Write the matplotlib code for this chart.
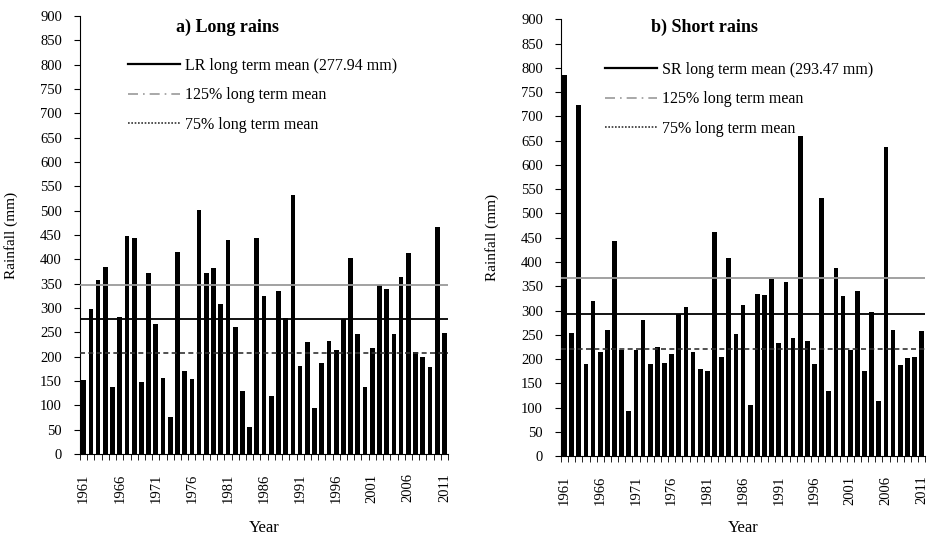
import numpy as np
import matplotlib.pyplot as plt
from matplotlib.lines import Line2D
from matplotlib.ticker import MultipleLocator

plt.rcParams['font.family'] = ['Liberation Serif', 'DejaVu Serif']

years = np.arange(1961, 2012)

long_rains = [153, 299, 357, 385, 137, 281, 449, 443, 148, 371,
              268, 157, 75, 416, 171, 155, 502, 371, 383, 309,
              440, 261, 129, 55, 443, 325, 120, 336, 280, 533,
              181, 230, 95, 188, 232, 213, 278, 402, 246, 137,
              217, 347, 339, 246, 363, 413, 209, 199, 179, 466,
              248]
short_rains = [785, 253, 724, 190, 320, 214, 260, 444, 219, 94,
               219, 281, 190, 224, 192, 211, 292, 307, 215, 180,
               176, 462, 205, 408, 251, 311, 105, 334, 332, 364,
               233, 359, 244, 660, 237, 190, 531, 134, 387, 329,
               219, 341, 176, 297, 113, 636, 260, 187, 202, 204,
               258]
lr_mean = 277.94
sr_mean = 293.47

fig = plt.figure(figsize=(9.34, 5.36), dpi=100)
ax1 = fig.add_axes([0.0857, 0.153, 0.394, 0.817])
ax2 = fig.add_axes([0.6006, 0.149, 0.390, 0.815])


def draw_panel(ax, data, mean, title, tag, title_xy, leg_xy, ylab_x, xlab_y):
    ax.bar(years, data, width=0.65, color='black', zorder=2)
    ax.axhline(mean, color='black', lw=1.3, zorder=3)
    ax.axhline(mean * 1.25, color='#9a9a9a', lw=1.3, zorder=3)
    ax.axhline(mean * 0.75, color='#333333', lw=1.2, ls=(0, (3, 2)), zorder=3)
    ax.set_xlim(1960.5, 2011.5)
    ax.set_ylim(0, 900)
    ax.yaxis.set_major_locator(MultipleLocator(50))
    ax.set_xticks(years[::5])
    ax.set_xticklabels([str(y) for y in years[::5]], rotation=90)
    ax.set_xticks(np.arange(1960.5, 2012, 1), minor=True)
    ax.tick_params(axis='x', which='major', length=0, pad=14, labelsize=10.5)
    ax.tick_params(axis='x', which='minor', length=4, direction='out', color='black')
    ax.tick_params(axis='y', length=4, direction='out', labelsize=10.5, pad=9)
    for s in ['top', 'right']:
        ax.spines[s].set_visible(False)
    ax.spines['bottom'].set_color('black')
    ax.spines['left'].set_color('black')
    ax.set_ylabel('Rainfall (mm)', fontsize=11)
    ax.yaxis.set_label_coords(ylab_x, 0.5)
    ax.set_xlabel('Year', fontsize=12)
    ax.xaxis.set_label_coords(0.5, xlab_y)
    ax.text(title_xy[0], title_xy[1], title, transform=ax.transAxes, ha='center',
            va='center', fontsize=13, fontweight='bold')
    handles = [Line2D([], [], color='black', lw=1.6),
               Line2D([], [], color='#9a9a9a', lw=1.2, ls=(0, (6, 3, 1, 3))),
               Line2D([], [], color='#333333', lw=1.2, ls=(0, (1, 1)))]
    labels = [f'{tag} long term mean ({mean:.2f} mm)',
              '125% long term mean', '75% long term mean']
    ax.legend(handles, labels, loc='upper left', bbox_to_anchor=leg_xy,
              frameon=False, fontsize=11.5, handlelength=3.25, handletextpad=0.3,
              labelspacing=0.86, borderaxespad=0)


draw_panel(ax1, long_rains, lr_mean, 'a) Long rains', 'LR', (0.40, 0.975), (0.113, 0.92),
           -0.168, -0.151)
draw_panel(ax2, short_rains, sr_mean, 'b) Short rains', 'SR', (0.393, 0.982), (0.103, 0.918),
           -0.170, -0.146)

fig.savefig('out.png', dpi=100)
